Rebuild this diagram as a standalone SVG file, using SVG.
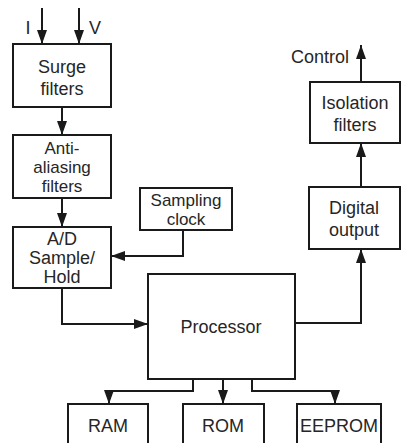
<svg xmlns="http://www.w3.org/2000/svg" width="401" height="443" viewBox="0 0 401 443">
  <style>
    .box { fill: #fff; stroke: #1a1a1a; stroke-width: 2; }
    .lbl { font-family: "Liberation Sans", Arial, sans-serif; font-size: 18px; fill: #262626; text-anchor: middle; }
    .tight { font-size: 17px; }
    .wire { fill: none; stroke: #1a1a1a; stroke-width: 2; }
  </style>
  <defs>
    <marker id="arrow" viewBox="0 0 14 10" refX="14" refY="5" markerWidth="14" markerHeight="10" markerUnits="userSpaceOnUse" orient="auto">
      <path d="M0,0 L14,5 L0,10 Z" fill="#1a1a1a"/>
    </marker>
  </defs>
  <rect width="401" height="443" fill="#fff"/>

  <g id="connectors">
    <line class="wire" x1="42" y1="8" x2="42" y2="44" marker-end="url(#arrow)"/>
    <line class="wire" x1="79" y1="8" x2="79" y2="44" marker-end="url(#arrow)"/>
    <line class="wire" x1="62" y1="107" x2="62" y2="135" marker-end="url(#arrow)"/>
    <line class="wire" x1="62" y1="198" x2="62" y2="227" marker-end="url(#arrow)"/>
    <polyline class="wire" points="183,230 183,256 111,256" marker-end="url(#arrow)"/>
    <polyline class="wire" points="62,288 62,324 148,324" marker-end="url(#arrow)"/>
    <polyline class="wire" points="295,323 361,323 361,249" marker-end="url(#arrow)"/>
    <line class="wire" x1="361" y1="187" x2="361" y2="143" marker-end="url(#arrow)"/>
    <line class="wire" x1="361" y1="82" x2="361" y2="45" marker-end="url(#arrow)"/>
    <polyline class="wire" points="193,379 193,391 109,391 109,404" marker-end="url(#arrow)"/>
    <line class="wire" x1="223" y1="379" x2="223" y2="404" marker-end="url(#arrow)"/>
    <polyline class="wire" points="252,379 252,391 335,391 335,404" marker-end="url(#arrow)"/>
  </g>

  <g id="inputs">
    <text class="lbl" x="28" y="34">I</text>
    <text class="lbl" x="95" y="34">V</text>
  </g>

  <g id="surge-filters">
    <rect class="box" x="13" y="44" width="98" height="63"/>
    <text class="lbl" x="62" y="73">Surge</text>
    <text class="lbl" x="62" y="95">filters</text>
  </g>

  <g id="anti-aliasing-filters">
    <rect class="box" x="13" y="135" width="98" height="63"/>
    <text class="lbl tight" x="62" y="154">Anti-</text>
    <text class="lbl tight" x="62" y="173">aliasing</text>
    <text class="lbl tight" x="62" y="192">filters</text>
  </g>

  <g id="sampling-clock">
    <rect class="box" x="140" y="188" width="92" height="42"/>
    <text class="lbl tight" x="186" y="206">Sampling</text>
    <text class="lbl tight" x="186" y="225">clock</text>
  </g>

  <g id="ad-sample-hold">
    <rect class="box" x="13" y="227" width="98" height="61"/>
    <text class="lbl" x="62" y="245">A/D</text>
    <text class="lbl" x="62" y="264">Sample/</text>
    <text class="lbl" x="62" y="283">Hold</text>
  </g>

  <g id="processor">
    <rect class="box" x="148" y="274" width="147" height="105"/>
    <text class="lbl" x="221" y="333">Processor</text>
  </g>

  <g id="digital-output">
    <rect class="box" x="309" y="187" width="91" height="62"/>
    <text class="lbl" x="354" y="214">Digital</text>
    <text class="lbl" x="354" y="236">output</text>
  </g>

  <g id="isolation-filters">
    <rect class="box" x="310" y="82" width="90" height="61"/>
    <text class="lbl" x="355" y="109">Isolation</text>
    <text class="lbl" x="355" y="131">filters</text>
  </g>

  <g id="control-output">
    <text class="lbl" x="320" y="63">Control</text>
  </g>

  <g id="ram">
    <rect class="box" x="68" y="404" width="80" height="50"/>
    <text class="lbl" x="108" y="432">RAM</text>
  </g>

  <g id="rom">
    <rect class="box" x="183" y="404" width="81" height="50"/>
    <text class="lbl" x="223" y="432">ROM</text>
  </g>

  <g id="eeprom">
    <rect class="box" x="297" y="404" width="84" height="50"/>
    <text class="lbl" x="339" y="432">EEPROM</text>
  </g>
</svg>
